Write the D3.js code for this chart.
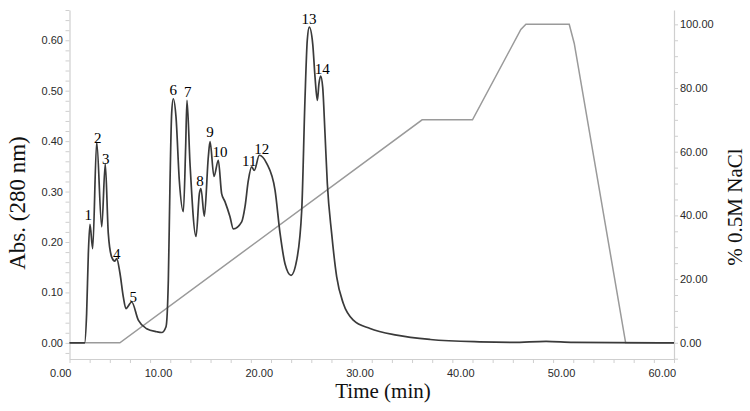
<!DOCTYPE html>
<html>
<head>
<meta charset="utf-8">
<script src="https://cdn.jsdelivr.net/npm/d3@7"></script>
<style>
  body { margin: 0; background: #fff; }
  svg { display: block; }
</style>
</head>
<body>
<svg></svg>
<script>
// chromatogram, absorbance at 280 nm (time in min, abs)
const absTime = [0, 1.5, 1.7, 1.87, 2.03, 2.3, 2.7, 3.2, 3.55, 3.85, 4.19, 4.5, 4.68, 5.01, 5.34, 5.6, 6.17, 6.83, 7.66, 8.65, 9.15, 9.58, 9.81, 9.98, 10.14, 10.3, 10.57, 10.9, 11.3, 11.53, 11.66, 11.96, 12.56, 12.89, 13.05, 13.38, 13.78, 13.95, 14.34, 14.77, 15.1, 15.43, 15.93, 16.26, 17.09, 17.42, 17.75, 18.08, 18.34, 18.84, 19.57, 20.4, 20.9, 21.39, 21.99, 22.55, 23.05, 23.37, 23.6, 23.8, 24.14, 24.37, 24.6, 24.76, 24.93, 25.13, 25.36, 25.59, 26.02, 26.52, 27.18, 28.17, 29.83, 32.47, 35.8, 40.7, 44, 47.3, 50, 54, 60];
const absValue = [0, 0, 0.058, 0.177, 0.235, 0.187, 0.398, 0.23, 0.355, 0.217, 0.17, 0.162, 0.167, 0.138, 0.091, 0.068, 0.081, 0.045, 0.028, 0.022, 0.0205, 0.032, 0.124, 0.322, 0.455, 0.484, 0.448, 0.322, 0.26, 0.389, 0.481, 0.356, 0.211, 0.296, 0.306, 0.251, 0.369, 0.399, 0.33, 0.362, 0.296, 0.28, 0.25, 0.226, 0.24, 0.27, 0.322, 0.349, 0.342, 0.372, 0.356, 0.303, 0.217, 0.157, 0.134, 0.164, 0.263, 0.481, 0.6, 0.626, 0.593, 0.527, 0.481, 0.514, 0.529, 0.507, 0.415, 0.316, 0.217, 0.131, 0.078, 0.045, 0.0285, 0.0153, 0.0067, 0.002, 0.001, 0.003, 0.001, 0.0005, 0];

// NaCl gradient (% of 0.5 M)
const gradTime = [0, 5, 35, 40, 44.8, 45.3, 49.6, 50.1, 55.2, 60];
const gradValue = [0, 0, 70, 70, 98.4, 100, 100, 94, 0, 0];

// peak numbers and where they sit (time, abs)
const peakNames = ["1", "2", "3", "4", "5", "6", "7", "8", "9", "10", "11", "12", "13", "14"];
const peakTime = [1.87, 2.8, 3.59, 4.68, 6.33, 10.3, 11.73, 12.95, 13.95, 14.94, 17.85, 19.08, 23.77, 25.09];
const peakAbs = [0.253, 0.407, 0.364, 0.177, 0.091, 0.501, 0.498, 0.321, 0.418, 0.379, 0.36, 0.384, 0.643, 0.544];

const xTicks = [0, 10, 20, 30, 40, 50, 60];
const absTicks = [0, 0.1, 0.2, 0.3, 0.4, 0.5, 0.6];
const pctTicks = [0, 20, 40, 60, 80, 100];

const width = 750,
  height = 411;

const svg = d3.select("svg").attr("width", width).attr("height", height);

const x = d3.scaleLinear().domain([0, 60]).range([69.5, 674]);
const yAbs = d3.scaleLinear().domain([-0.032, 0.66]).range([359, 10]);
const yPct = d3.scaleLinear().domain([-5.1, 104.5]).range([359, 10]);

const axisColor = "#cfcfcf";
const tickFont = "Liberation Sans, Arial, sans-serif";
const serif = "Liberation Serif, Times New Roman, serif";

// axes: light lines, small ticks, no domain end caps
function styleAxis(g) {
  g.select(".domain").attr("stroke", axisColor).attr("stroke-width", 1.2);
  g.selectAll(".tick line").attr("stroke", axisColor);
}

function tickLabels(values, fx, fy, anchor) {
  svg
    .append("g")
    .selectAll("text")
    .data(values)
    .enter()
    .append("text")
    .attr("x", fx)
    .attr("y", fy)
    .attr("text-anchor", anchor)
    .attr("fill", "#2a2a2a")
    .style("font-family", tickFont)
    .style("font-size", "11px")
    .text((d) => d3.format(".2f")(d));
}

// bottom axis, minor ticks every 2 min
svg
  .append("g")
  .attr("transform", "translate(0,359)")
  .call(
    d3.axisBottom(x).tickValues(d3.range(0, 61, 2)).tickSize(4).tickSizeOuter(0).tickFormat("")
  )
  .call(styleAxis);
tickLabels(xTicks, (d) => x(d) + 2, 377, "end");

// left axis
svg
  .append("g")
  .attr("transform", "translate(69.5,0)")
  .call(
    d3.axisLeft(yAbs).tickValues(d3.range(-0.02, 0.661, 0.02)).tickSize(4).tickSizeOuter(0).tickFormat("")
  )
  .call(styleAxis);
tickLabels(absTicks, 63, (d) => yAbs(d) + 4, "end");

// right axis
svg
  .append("g")
  .attr("transform", "translate(674,0)")
  .call(
    d3.axisRight(yPct).tickValues(d3.range(-5, 104.6, 5)).tickSize(4).tickSizeOuter(0).tickFormat("")
  )
  .call(styleAxis);
tickLabels(pctTicks, 680, (d) => yPct(d) + 4, "start");

// gradient line
const gradData = gradTime.map((t, i) => ({ t: t, v: gradValue[i] }));
svg
  .append("path")
  .datum(gradData)
  .attr("fill", "none")
  .attr("stroke", "#9a9a9a")
  .attr("stroke-width", 1.5)
  .attr(
    "d",
    d3
      .line()
      .x((d) => x(d.t))
      .y((d) => yPct(d.v))
  );

// absorbance trace
const absData = absTime.map((t, i) => ({ t: t, v: absValue[i] }));
svg
  .append("path")
  .datum(absData)
  .attr("fill", "none")
  .attr("stroke", "#3a3a3a")
  .attr("stroke-width", 1.7)
  .attr("stroke-linejoin", "round")
  .attr(
    "d",
    d3
      .line()
      .curve(d3.curveMonotoneX)
      .x((d) => x(d.t))
      .y((d) => yAbs(d.v))
  );

// peak numbers
svg
  .append("g")
  .selectAll("text")
  .data(peakNames)
  .enter()
  .append("text")
  .attr("x", (d, i) => x(peakTime[i]))
  .attr("y", (d, i) => yAbs(peakAbs[i]) + 5)
  .attr("text-anchor", "middle")
  .attr("fill", "#000")
  .style("font-family", serif)
  .style("font-size", "15px")
  .text((d) => d);

// titles
svg
  .append("text")
  .attr("x", 383)
  .attr("y", 398)
  .attr("text-anchor", "middle")
  .attr("fill", "#111")
  .style("font-family", serif)
  .style("font-size", "21px")
  .text("Time (min)");

svg
  .append("text")
  .attr("transform", "translate(25,203) rotate(-90)")
  .attr("text-anchor", "middle")
  .attr("fill", "#111")
  .style("font-family", serif)
  .style("font-size", "23px")
  .text("Abs. (280 nm)");

svg
  .append("text")
  .attr("transform", "translate(742,207) rotate(-90)")
  .attr("text-anchor", "middle")
  .attr("fill", "#111")
  .style("font-family", serif)
  .style("font-size", "21px")
  .text("% 0.5M NaCl");
</script>
</body>
</html>
